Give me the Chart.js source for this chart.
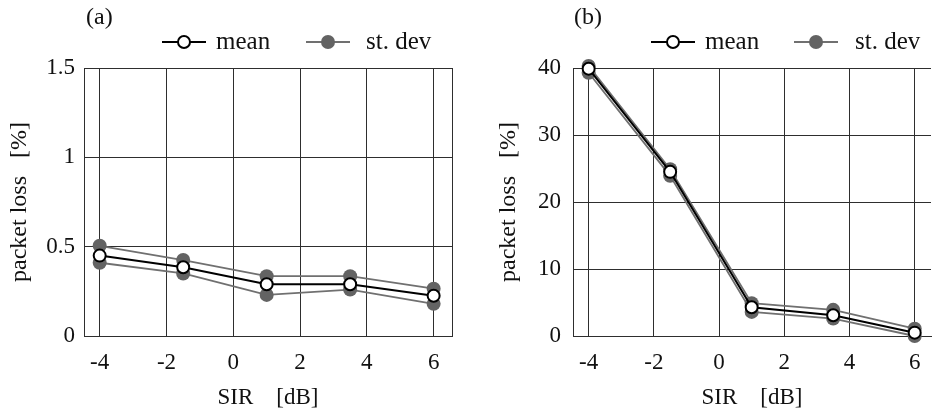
<!DOCTYPE html>
<html>
<head>
<meta charset="utf-8">
<script src="https://cdn.jsdelivr.net/npm/chart.js@4.4.0/dist/chart.umd.min.js"></script>
<style>
  body { margin: 0; background: #fff; width: 939px; height: 412px; overflow: hidden; position: relative; }
  .panel { position: absolute; top: 0; height: 412px; }
</style>
</head>
<body>
<div class="panel" style="left:0;width:470px"><canvas id="chartA" width="470" height="412"></canvas></div>
<div class="panel" style="left:470px;width:469px"><canvas id="chartB" width="469" height="412"></canvas></div>
<script>
// --- data ---
const sirValues = [-4, -1.5, 1, 3.5, 6];
const xTickValues = [-4, -2, 0, 2, 4, 6];
const xTickLabels = ['-4', '-2', '0', '2', '4', '6'];

const meanA = [0.45, 0.385, 0.29, 0.29, 0.225];
const upperA = [0.505, 0.425, 0.335, 0.335, 0.265];
const lowerA = [0.41, 0.35, 0.23, 0.26, 0.18];
const yTicksA = [0, 0.5, 1, 1.5];
const yTickLabelsA = ['0', '0.5', '1', '1.5'];

const meanB = [39.9, 24.5, 4.3, 3.1, 0.5];
const upperB = [40.3, 24.9, 4.9, 3.9, 1.1];
const lowerB = [39.3, 23.9, 3.6, 2.6, 0.0];
const yTicksB = [0, 10, 20, 30, 40];
const yTickLabelsB = ['0', '10', '20', '30', '40'];

const FONT = "'Liberation Serif', 'Times New Roman', serif";
const GRID = '#2e2e2e';
const GREY_LINE = '#707070';
const GREY_DOT = '#636363';

const toPoints = vals => vals.map((v, i) => ({ x: sirValues[i], y: v }));

// legend drawn as line + marker + text, like the original figure
function legendPlugin(panel, items) {
  return {
    id: 'legendRow',
    afterDraw(chart) {
      const ctx = chart.ctx;
      ctx.save();
      ctx.font = '24px ' + FONT;
      ctx.fillStyle = '#111';
      ctx.textBaseline = 'alphabetic';
      ctx.fillText(panel.tag, panel.tagX, 24);
      const y = 42;
      items.forEach(it => {
        ctx.strokeStyle = it.line;
        ctx.lineWidth = it.width;
        ctx.beginPath();
        ctx.moveTo(it.x, y);
        ctx.lineTo(it.x + 44, y);
        ctx.stroke();
        ctx.beginPath();
        ctx.arc(it.x + 22, y, it.r, 0, Math.PI * 2);
        ctx.fillStyle = it.fill;
        ctx.fill();
        if (it.border) {
          ctx.lineWidth = 2;
          ctx.strokeStyle = it.border;
          ctx.stroke();
        }
        ctx.fillStyle = '#111';
        ctx.font = '25px ' + FONT;
        ctx.fillText(it.text, it.textX, 49);
      });
      ctx.restore();
    }
  };
}

function makePanel(id, cfg) {
  const xTicks = cfg.rightBorder ? [...xTickValues, cfg.xMax] : xTickValues;
  return new Chart(document.getElementById(id), {
    type: 'line',
    data: {
      datasets: [
        {
          label: 'mean',
          data: toPoints(cfg.mean),
          borderColor: '#000',
          borderWidth: 2,
          pointRadius: 6,
          pointBackgroundColor: '#fff',
          pointBorderColor: '#000',
          pointBorderWidth: 2,
          clip: false,
          order: 0
        },
        {
          label: 'st. dev',
          data: toPoints(cfg.upper),
          borderColor: GREY_LINE,
          borderWidth: 1.8,
          pointRadius: 7,
          pointBackgroundColor: GREY_DOT,
          pointBorderWidth: 0,
          clip: false,
          order: 1
        },
        {
          label: 'st. dev low',
          data: toPoints(cfg.lower),
          borderColor: GREY_LINE,
          borderWidth: 1.8,
          pointRadius: 7,
          pointBackgroundColor: GREY_DOT,
          pointBorderWidth: 0,
          clip: false,
          order: 2
        }
      ]
    },
    options: {
      responsive: false,
      animation: false,
      layout: { padding: { top: 68, right: cfg.padRight, left: 0, bottom: 0 } },
      plugins: { legend: { display: false }, tooltip: { enabled: false } },
      scales: {
        x: {
          type: 'linear',
          min: cfg.xMin,
          max: cfg.xMax,
          afterBuildTicks: s => { s.ticks = xTicks.map(v => ({ value: v })); },
          afterFit: s => { s.height = 76; },
          grid: { color: GRID, lineWidth: 1, drawTicks: false },
          border: { display: true, color: GRID },
          ticks: {
            padding: 13,
            color: '#111',
            font: { family: FONT, size: 23 },
            callback: v => {
              const i = xTickValues.indexOf(v);
              return i >= 0 ? xTickLabels[i] : '';
            }
          },
          title: {
            display: true,
            text: 'SIR\u00a0\u00a0\u00a0\u00a0[dB]',
            color: '#111',
            font: { family: FONT, size: 23 },
            padding: { top: 0, bottom: 0 }
          }
        },
        y: {
          min: 0,
          max: cfg.yMax,
          afterBuildTicks: s => { s.ticks = cfg.yTicks.map(v => ({ value: v })); },
          afterFit: s => { s.width = cfg.yWidth; },
          grid: { color: GRID, lineWidth: 1, drawTicks: false },
          border: { display: true, color: GRID },
          ticks: {
            padding: cfg.tickPad,
            color: '#111',
            font: { family: FONT, size: 23 },
            callback: v => cfg.yLabels[cfg.yTicks.indexOf(v)]
          },
          title: {
            display: true,
            text: 'packet loss\u00a0\u00a0\u00a0[%]',
            color: '#111',
            font: { family: FONT, size: 24 },
            padding: { top: cfg.titlePad, bottom: 0 }
          }
        }
      }
    },
    plugins: [legendPlugin(cfg.legend, cfg.legendItems)]
  });
}

const legendStyle = (x, textX, text, grey) => grey
  ? { x, textX, text, line: GREY_LINE, width: 1.8, fill: GREY_DOT, r: 7 }
  : { x, textX, text, line: '#000', width: 2, fill: '#fff', border: '#000', r: 6 };

makePanel('chartA', {
  mean: meanA, upper: upperA, lower: lowerA,
  yMax: 1.5, yTicks: yTicksA, yLabels: yTickLabelsA,
  xMin: -4.47, xMax: 6.55, rightBorder: true, padRight: 18,
  yWidth: 84, tickPad: 9, titlePad: 5,
  legend: { tag: '(a)', tagX: 86 },
  legendItems: [legendStyle(162, 216, 'mean', false), legendStyle(306, 366, 'st. dev', true)]
});

makePanel('chartB', {
  mean: meanB, upper: upperB, lower: lowerB,
  yMax: 40, yTicks: yTicksB, yLabels: yTickLabelsB,
  xMin: -4.48, xMax: 6.5, rightBorder: false, padRight: 0,
  yWidth: 103, tickPad: 12, titlePad: 24,
  legend: { tag: '(b)', tagX: 104 },
  legendItems: [legendStyle(181, 235, 'mean', false), legendStyle(324, 385, 'st. dev', true)]
});
</script>
</body>
</html>
